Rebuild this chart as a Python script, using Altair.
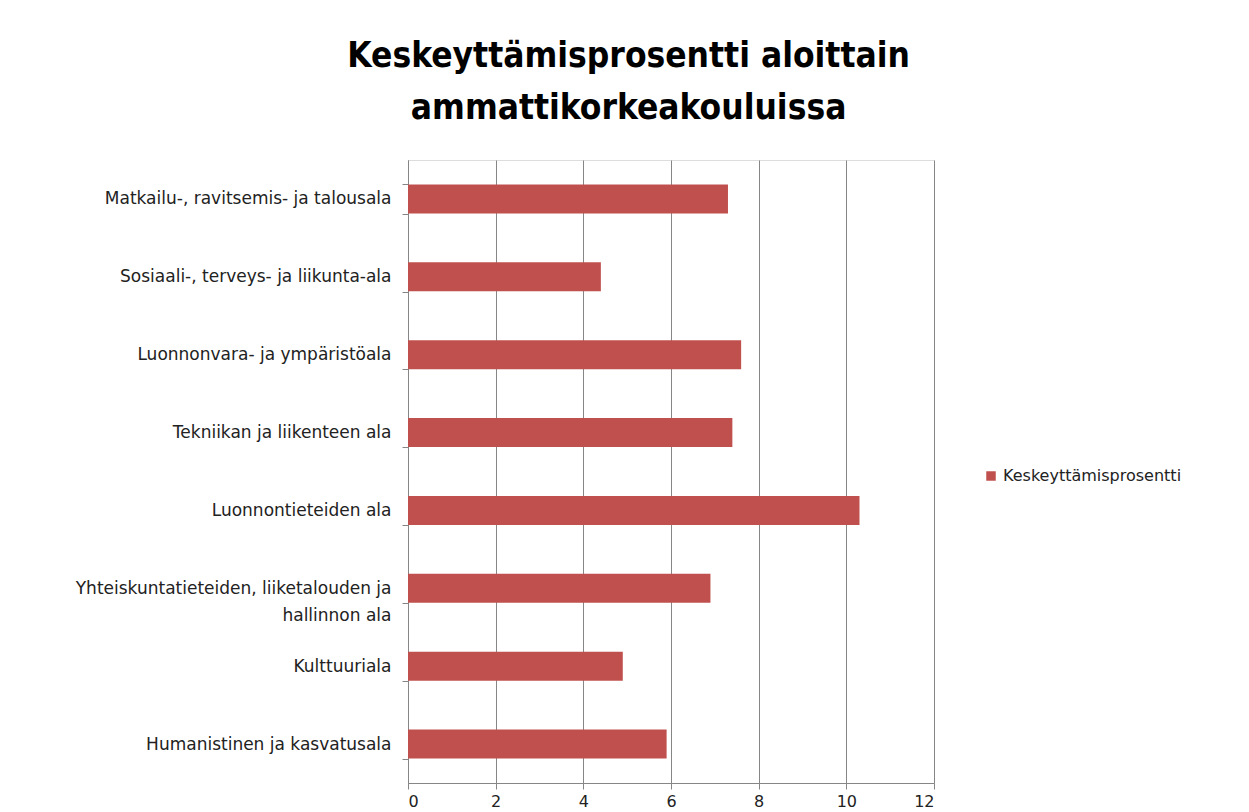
import altair as alt
import pandas as pd

categories = [
    "Matkailu-, ravitsemis- ja talousala",
    "Sosiaali-, terveys- ja liikunta-ala",
    "Luonnonvara- ja ympäristöala",
    "Tekniikan ja liikenteen ala",
    "Luonnontieteiden ala",
    "Yhteiskuntatieteiden, liiketalouden ja|hallinnon ala",
    "Kulttuuriala",
    "Humanistinen ja kasvatusala",
]
values = [7.3, 4.4, 7.6, 7.4, 10.3, 6.9, 4.9, 5.9]
series = ["Keskeyttämisprosentti"] * len(categories)

df = pd.DataFrame({"ala": categories, "arvo": values, "sarja": series})

font = "DejaVu Sans"
title_font = "Liberation Sans Narrow, DejaVu Sans Condensed, Roboto Condensed, sans-serif"

chart = (
    alt.Chart(df)
    .mark_bar(size=29, color="#C0504D")
    .encode(
        y=alt.Y(
            "ala:N",
            sort=None,
            title=None,
            scale=alt.Scale(paddingInner=0.62, paddingOuter=0.31),
            axis=alt.Axis(
                labelExpr="split(datum.label, '|')",
                labelFontSize=17,
                labelColor="#222222",
                labelFont=font,
                labelLimit=420,
                labelPadding=11,
                labelLineHeight=27,
                tickBand="extent",
                tickSize=6,
                tickColor="#868686",
                domainColor="#868686",
                grid=False,
            ),
        ),
        x=alt.X(
            "arvo:Q",
            title=None,
            scale=alt.Scale(domain=[0, 12]),
            axis=alt.Axis(
                values=[0, 2, 4, 6, 8, 10, 12],
                labelFontSize=16,
                labelFont=font,
                labelColor="#222222",
                gridColor="#868686",
                domainColor="#868686",
                tickColor="#868686",
                tickSize=6,
                labelPadding=4,
            ),
        ),
        color=alt.Color(
            "sarja:N",
            scale=alt.Scale(range=["#C0504D"]),
            legend=alt.Legend(
                title=None,
                symbolType="square",
                symbolSize=90,
                labelFontSize=16,
                labelFont=font,
                labelColor="#222222",
                labelLimit=300,
                orient="none",
                legendX=575,
                legendY=308,
            ),
        ),
    )
    .properties(
        width=526,
        height=623,
        title=alt.TitleParams(
            text=["Keskeyttämisprosentti aloittain", "ammattikorkeakouluissa"],
            fontSize=35,
            font=title_font,
            fontWeight="bold",
            color="#000000",
            anchor="middle",
            frame="bounds",
            lineHeight=52,
            offset=25,
        ),
        padding={"left": 67, "top": 31, "right": 20, "bottom": 5},
    )
    .configure_view(stroke=None)
    .configure(background="white")
)

chart.save("out.html", embed_options={"renderer": "svg", "actions": False})
